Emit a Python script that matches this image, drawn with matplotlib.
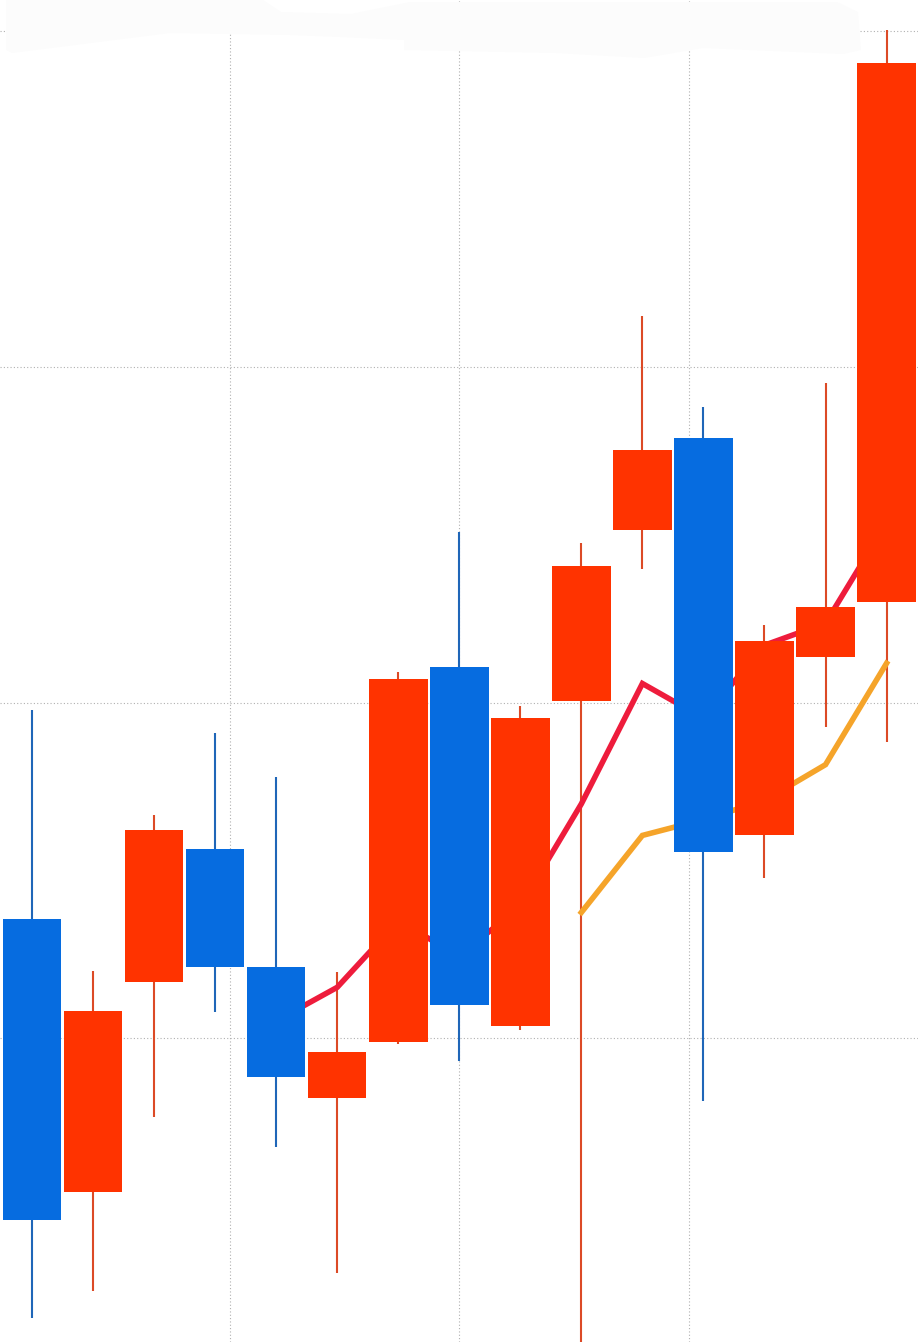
import matplotlib
matplotlib.use("Agg")
import matplotlib.pyplot as plt
from matplotlib.patches import Polygon
import numpy as np
import pandas as pd

# ---- data ----
opens  = [103.54, 95.42, 101.69, 105.64, 102.11, 98.22, 99.90, 111.05, 100.36, 110.05, 115.15, 117.87, 106.06, 111.35, 112.99]
highs  = [109.78, 102.00, 106.65, 109.09, 107.78, 101.98, 110.92, 115.09, 109.90, 114.74, 121.52, 118.79, 112.31, 119.51, 130.03]
lows   = [91.67, 92.47, 97.66, 100.78, 96.76, 93.01, 99.83, 99.33, 100.25, 90.50, 113.99, 98.14, 104.77, 109.27, 108.83]
closes = [94.59, 100.81, 106.20, 102.13, 98.85, 99.60, 110.69, 100.99, 109.55, 114.08, 117.52, 105.54, 111.84, 112.84, 129.04]
y_grid = [100, 110, 120, 130]
x_grid = [3.24, 7.00, 10.77]

UP_BODY, UP_WICK = "#FF3300", "#DC4A26"
DN_BODY, DN_WICK = "#066CE0", "#1F66B8"
MA5_COLOR, MA10_COLOR = "#EE1C3C", "#F5A42A"

x = np.arange(len(closes))
df = pd.DataFrame({"open": opens, "high": highs, "low": lows, "close": closes}, index=x)
ma5 = df["close"].rolling(5).mean()
ma10 = df["close"].rolling(10).mean()

fig = plt.figure(figsize=(9.18, 13.42), dpi=100)
ax = fig.add_axes([0, 0, 1, 1])
ax.set_xlim(-0.524, 14.515)
ax.set_ylim(90.955, 130.923)

for g in y_grid:
    ax.axhline(g, color="#b0b0b0", lw=0.8, ls=(0, (1, 2)), zorder=0)
for g in x_grid:
    ax.axvline(g, color="#b0b0b0", lw=0.8, ls=(0, (1, 2)), zorder=0)

up = df["close"] >= df["open"]
wick_colors = [UP_WICK if u else DN_WICK for u in up]
body_colors = [UP_BODY if u else DN_BODY for u in up]

ax.vlines(x, df["low"], df["high"], colors=wick_colors, lw=1.5, zorder=1)
ax.plot(x, ma5, color=MA5_COLOR, lw=4.0, zorder=2, solid_joinstyle="miter")
ax.plot(x, ma10, color=MA10_COLOR, lw=4.0, zorder=2, solid_joinstyle="miter")
bottoms = np.minimum(df["open"], df["close"])
heights = np.abs(df["close"] - df["open"])
ax.bar(x, heights, bottom=bottoms, width=0.96, color=body_colors, zorder=3, linewidth=0)

for s in ax.spines.values():
    s.set_visible(False)
ax.set_xticks([])
ax.set_yticks([])

# faint near-white smudge at the top of the reference
W, H = 918.0, 1342.0
pts = [(6, 10), (6, 0), (263, 0), (281, 12), (351, 14), (410, 2), (837, 2), (858, 12), (861, 50),
       (843, 54), (703, 48), (644, 58), (556, 53), (404, 50), (404, 40), (340, 37), (290, 35),
       (170, 33), (12, 53), (6, 50)]
poly = Polygon([(px / W, 1 - py / H) for px, py in pts], closed=True, transform=fig.transFigure,
               facecolor="#fcfcfc", edgecolor="none", zorder=10)
fig.patches.append(poly)

fig.savefig("out.png", dpi=100)
